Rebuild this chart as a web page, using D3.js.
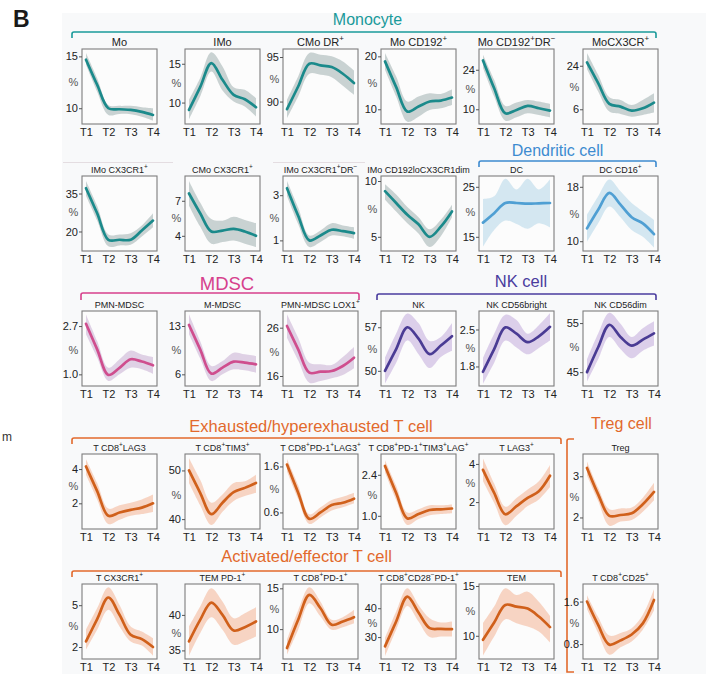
<!DOCTYPE html>
<html>
<head>
<meta charset="utf-8">
<script src="https://cdn.jsdelivr.net/npm/d3@7"></script>
<style>
  body { margin: 0; background: #fff; }
  svg { display: block; font-family: "Liberation Sans", Arial, Helvetica, sans-serif; }
</style>
</head>
<body>
<svg id="chart" width="706" height="674"></svg>
<script>
// ---- data ---------------------------------------------------------------
const timepoints = ["T1", "T2", "T3", "T4"];
// time positions at which the smoothed mean and confidence band are sampled
const samplePos = [1, 1.5, 2, 2.5, 3, 3.5, 4];

const panelTitles = [
  "Mo", "IMo", "CMo DR^+", "Mo CD192^+", "Mo CD192^+DR^\u2212", "MoCX3CR^+",
  "IMo CX3CR1^+", "CMo CX3CR1^+", "IMo CX3CR1^+DR^\u2212", "IMo CD192loCX3CR1dim", "DC", "DC CD16^+",
  "PMN-MDSC", "M-MDSC", "PMN-MDSC LOX1^+", "NK", "NK CD56bright", "NK CD56dim",
  "T CD8^+LAG3", "T CD8^+TIM3^+", "T CD8^+PD-1^+LAG3^+", "T CD8^+PD-1^+TIM3^+LAG^+", "T LAG3^+", "Treg",
  "T CX3CR1^+", "TEM PD-1^+", "T CD8^+PD-1^+", "T CD8^+CD28^\u2212PD-1^+", "TEM", "T CD8^+CD25^+"
];

const panelGroup = [
  "mono", "mono", "mono", "mono", "mono", "mono",
  "mono", "mono", "mono", "mono", "dc", "dc",
  "mdsc", "mdsc", "mdsc", "nk", "nk", "nk",
  "t", "t", "t", "t", "t", "t",
  "t", "t", "t", "t", "t", "t"
];

const yTickLabels = [
  ["10", "15"], ["10", "15"], ["90", "95"], ["10", "20"], ["10", "24"], ["6", "24"],
  ["20", "35"], ["4", "7"], ["1", "3"], ["5", "10"], ["15", "25"], ["10", "18"],
  ["1.0", "2.7"], ["6", "13"], ["16", "26"], ["50", "57"], ["1.8", "2.5"], ["45", "55"],
  ["2", "4"], ["40", "50"], ["0.6", "1.6"], ["1.0", "2.4"], ["2", "4"], ["2", "3"],
  ["2", "5"], ["35", "40"], ["10", "15"], ["30", "40"], ["10", "15"], ["0.8", "1.6"]
];

const yDomains = [
  [8.48, 15.71], [7.24, 16.9], [87.48, 95.9], [7.22, 21.39], [4.78, 31.36], [-0.09, 30.92],
  [12.3, 41.91], [2.7, 9.12], [0.53, 3.85], [3.73, 10.45], [12.16, 27.16], [8.56, 19.59],
  [0.59, 3.23], [4.31, 15.17], [13.93, 29.45], [47.56, 59.61], [1.43, 2.85], [42.18, 57.46],
  [0.5, 4.88], [37.97, 53.38], [0.24, 1.87], [0.55, 3.11], [0.59, 4.52], [1.72, 3.54],
  [1.14, 6.52], [33.79, 44.35], [6.34, 15.53], [22.41, 48.39], [7.67, 15.2], [0.52, 1.93]
];

const meanValues = [
  [14.68, 12.26, 10.0, 9.9, 9.84, 9.65, 9.35],
  [9.05, 11.98, 15.09, 12.93, 10.99, 10.43, 9.4],
  [89.14, 91.69, 94.25, 94.06, 93.87, 93.12, 92.07],
  [19.05, 14.18, 9.56, 10.51, 11.46, 11.65, 12.22],
  [27.32, 17.47, 8.58, 9.76, 11.19, 10.36, 9.53],
  [25.38, 16.8, 8.22, 7.11, 5.45, 6.42, 8.77],
  [37.09, 27.17, 16.74, 16.74, 16.74, 20.39, 24.3],
  [7.62, 5.93, 4.37, 4.45, 4.59, 4.37, 4.0],
  [3.31, 2.09, 1.0, 1.22, 1.47, 1.41, 1.32],
  [9.09, 8.03, 6.97, 6.12, 5.0, 5.91, 7.27],
  [17.84, 19.73, 21.76, 21.76, 21.62, 21.69, 21.76],
  [11.89, 14.62, 17.1, 15.37, 13.53, 12.63, 11.04],
  [2.78, 1.88, 0.98, 1.23, 1.53, 1.45, 1.32],
  [13.15, 9.62, 6.1, 6.97, 7.83, 7.69, 7.45],
  [26.34, 21.52, 16.69, 16.9, 17.03, 18.07, 19.79],
  [50.0, 53.5, 57.0, 55.17, 52.67, 54.06, 55.56],
  [1.7, 2.13, 2.54, 2.42, 2.26, 2.37, 2.55],
  [45.0, 50.07, 54.65, 52.18, 50.42, 51.62, 52.89],
  [4.15, 2.71, 1.27, 1.46, 1.62, 1.75, 2.0],
  [50.0, 45.41, 41.01, 43.38, 45.54, 46.42, 47.43],
  [1.64, 1.03, 0.46, 0.6, 0.76, 0.81, 0.9],
  [2.7, 1.78, 0.91, 1.06, 1.2, 1.22, 1.25],
  [3.69, 2.48, 1.36, 1.79, 2.22, 2.57, 3.38],
  [3.2, 2.56, 2.04, 2.06, 2.1, 2.32, 2.62],
  [2.4, 4.0, 5.55, 4.31, 2.88, 2.57, 2.0],
  [36.26, 39.3, 41.73, 40.0, 37.8, 38.27, 39.07],
  [7.68, 11.14, 14.19, 12.56, 10.53, 10.93, 11.46],
  [26.78, 35.4, 44.02, 38.51, 33.1, 32.87, 32.76],
  [9.6, 11.33, 13.1, 12.93, 12.73, 11.93, 10.87],
  [1.6, 1.16, 0.79, 0.87, 0.98, 1.19, 1.63]
];

const lowerValues = [
  [14.19, 11.6, 9.35, 9.45, 9.42, 9.19, 8.81],
  [7.84, 10.78, 14.0, 11.55, 10.13, 9.48, 8.19],
  [88.12, 90.56, 93.12, 93.0, 92.74, 91.77, 90.75],
  [17.47, 12.41, 7.66, 8.61, 9.87, 10.19, 10.82],
  [24.59, 14.5, 5.97, 7.15, 8.58, 7.98, 7.15],
  [22.62, 13.34, 5.03, 4.06, 2.95, 3.65, 4.62],
  [34.09, 24.3, 14.13, 14.52, 14.78, 18.04, 21.7],
  [6.58, 4.79, 3.32, 3.46, 3.6, 3.32, 3.04],
  [2.97, 1.73, 0.71, 0.93, 1.22, 1.18, 1.07],
  [8.33, 7.27, 6.21, 5.3, 4.09, 5.06, 6.76],
  [12.97, 16.35, 18.24, 17.57, 16.62, 17.7, 16.89],
  [9.9, 12.63, 15.12, 13.53, 11.64, 10.65, 9.06],
  [2.41, 1.59, 0.77, 1.0, 1.23, 1.18, 1.02],
  [11.8, 8.32, 5.03, 6.0, 6.72, 6.58, 6.24],
  [23.93, 19.24, 14.62, 14.97, 15.52, 16.21, 17.59],
  [47.94, 51.28, 54.89, 52.67, 50.44, 52.22, 53.22],
  [1.47, 1.87, 2.29, 2.16, 2.03, 2.15, 2.29],
  [43.03, 47.61, 52.18, 49.72, 47.82, 49.37, 50.42],
  [3.67, 2.23, 0.79, 1.04, 1.27, 1.37, 1.5],
  [47.43, 42.84, 38.78, 41.49, 43.72, 44.73, 45.41],
  [1.49, 0.89, 0.35, 0.49, 0.64, 0.71, 0.8],
  [2.48, 1.54, 0.69, 0.89, 1.02, 1.06, 1.09],
  [3.09, 1.97, 0.79, 1.28, 1.79, 2.14, 2.79],
  [3.02, 2.4, 1.8, 1.9, 1.94, 2.14, 2.42],
  [1.81, 3.24, 4.67, 3.48, 2.4, 2.1, 1.38],
  [34.25, 37.43, 39.67, 37.9, 35.79, 36.26, 36.96],
  [6.87, 9.92, 13.17, 11.54, 9.92, 10.24, 10.73],
  [23.33, 32.53, 40.8, 35.4, 30.0, 30.23, 30.23],
  [8.0, 9.93, 11.67, 11.27, 10.93, 10.43, 9.33],
  [1.46, 1.01, 0.6, 0.74, 0.85, 1.07, 1.43]
];

const upperValues = [
  [15.32, 12.9, 10.32, 10.23, 10.23, 10.1, 10.0],
  [10.34, 13.15, 16.47, 14.66, 11.98, 11.64, 10.56],
  [90.19, 92.82, 95.45, 95.26, 95.08, 94.51, 93.5],
  [20.63, 16.2, 11.46, 12.41, 13.04, 12.91, 13.8],
  [29.34, 20.44, 11.19, 12.37, 13.32, 12.73, 11.9],
  [29.26, 20.26, 10.98, 9.88, 7.8, 9.88, 12.65],
  [39.96, 30.17, 18.83, 18.83, 19.35, 22.35, 27.17],
  [8.7, 6.86, 5.44, 5.3, 5.64, 5.36, 5.08],
  [3.63, 2.46, 1.22, 1.44, 1.76, 1.66, 1.58],
  [9.7, 8.79, 7.67, 6.76, 5.67, 6.52, 7.88],
  [22.57, 23.1, 26.62, 24.46, 26.62, 24.46, 26.49],
  [13.88, 16.61, 19.09, 17.35, 15.61, 14.37, 13.13],
  [3.11, 2.17, 1.23, 1.53, 1.84, 1.7, 1.61],
  [14.69, 10.83, 7.2, 7.93, 9.14, 8.9, 8.65],
  [28.76, 23.93, 18.76, 18.41, 18.28, 19.93, 22.0],
  [52.11, 56.0, 59.22, 57.67, 54.78, 55.44, 57.67],
  [1.96, 2.42, 2.78, 2.68, 2.42, 2.58, 2.81],
  [47.61, 52.89, 57.11, 54.86, 52.18, 53.94, 55.35],
  [4.58, 3.19, 1.69, 1.88, 2.04, 2.23, 2.52],
  [52.5, 48.11, 43.38, 45.07, 47.43, 47.77, 49.12],
  [1.76, 1.19, 0.56, 0.71, 0.87, 0.94, 1.03],
  [2.9, 2.03, 1.11, 1.22, 1.36, 1.36, 1.39],
  [4.29, 2.97, 1.76, 2.22, 2.66, 3.09, 3.95],
  [3.36, 2.72, 2.2, 2.22, 2.24, 2.48, 2.84],
  [3.24, 4.79, 6.29, 5.02, 3.48, 3.12, 2.64],
  [38.36, 41.17, 43.74, 41.87, 39.53, 40.23, 41.07],
  [8.7, 12.28, 15.12, 13.37, 11.14, 11.46, 12.36],
  [29.66, 38.85, 46.9, 41.15, 36.55, 35.06, 35.4],
  [11.27, 12.93, 14.77, 14.1, 14.43, 13.43, 12.0],
  [1.72, 1.31, 0.96, 1.01, 1.1, 1.35, 1.83]
];

const groupLabels = ["Monocyte", "Dendritic cell", "MDSC", "NK cell",
  "Exhausted/hyperexhausted T cell", "Activated/effector T cell", "Treg cell"];

// ---- styling & layout ---------------------------------------------------
const palette = {
  mono: { line: "#1b8a8b", band: "#c3cdcd", head: "#1a9a9a" },
  dc:   { line: "#4f9fd3", band: "#cfe4ef", head: "#3d8bd0" },
  mdsc: { line: "#cf4e8e", band: "#dccce2", head: "#d6408c" },
  nk:   { line: "#4a3b94", band: "#d8cae8", head: "#4a3c9e" },
  t:    { line: "#d0601b", band: "#f6cfbd", head: "#e2692c" }
};

const headerLayout = [
  { group: "mono", tx: 367.5, ty: 25,  fs: 16,   y: 32,  x1: 72,  x2: 656, drop: 6 },
  { group: "dc",   tx: 557.5, ty: 156, fs: 16,   y: 161, x1: 479, x2: 656, drop: 6 },
  { group: "mdsc", tx: 227,   ty: 290, fs: 18.5, y: 293, x1: 81,  x2: 359, drop: 7 },
  { group: "nk",   tx: 521,   ty: 287, fs: 16.5, y: 294, x1: 377, x2: 656, drop: 6 },
  { group: "t",    tx: 311,   ty: 432, fs: 16.5, y: 438, x1: 72,  x2: 561, drop: 6 },
  { group: "t",    tx: 306.5, ty: 562, fs: 16.5, y: 571, x1: 72,  x2: 561, drop: 6 },
  { group: "t",    tx: 621.5, ty: 429, fs: 16,   vertical: true, x: 567, y1: 439, y2: 672, tick: 7 }
];

const rowTops = [49, 176, 311, 454, 584];
const colLefts = [82, 185, 283, 381, 479, 583];
const boxW = 75, boxH = 75;

const svg = d3.select("#chart");

// page background and panel label
svg.append("rect").attr("width", 706).attr("height", 674).attr("fill", "#ffffff");
svg.append("rect").attr("x", 62).attr("y", 13).attr("width", 644).attr("height", 661).attr("fill", "#f8f9fa");
svg.append("text").attr("x", 13).attr("y", 27).attr("font-size", 23).attr("font-weight", "bold")
  .attr("fill", "#1a1a1a").text("B");
svg.append("text").attr("x", 2).attr("y", 441).attr("font-size", 12).attr("fill", "#333").text("m");

// faint separator lines above the second row of titles
[[63, 173], [273, 365]].forEach(([a, b]) => {
  svg.append("line").attr("x1", a).attr("x2", b).attr("y1", 162.5).attr("y2", 162.5)
    .attr("stroke", "#e4dde1").attr("stroke-width", 1);
});

// group headers with brackets
headerLayout.forEach((h, i) => {
  const col = palette[h.group].head;
  svg.append("text").attr("x", h.tx).attr("y", h.ty).attr("text-anchor", "middle")
    .attr("font-size", h.fs).attr("fill", col).text(groupLabels[i]);
  let d;
  if (h.vertical) {
    d = `M${h.x + h.tick},${h.y1} L${h.x + 2},${h.y1} Q${h.x},${h.y1} ${h.x},${h.y1 + 2} L${h.x},${h.y2} L${h.x + h.tick},${h.y2}`;
  } else {
    d = `M${h.x1},${h.y + h.drop} L${h.x1},${h.y + 2} Q${h.x1},${h.y} ${h.x1 + 2},${h.y} L${h.x2 - 2},${h.y} Q${h.x2},${h.y} ${h.x2},${h.y + 2} L${h.x2},${h.y + h.drop}`;
  }
  svg.append("path").attr("d", d).attr("fill", "none").attr("stroke", col).attr("stroke-width", 1.6);
});

// writes a title string, raising the characters that follow a caret
function richText(sel, str, size) {
  const parts = str.split(/(\^.)/).filter(p => p.length);
  let raised = false;
  parts.forEach(p => {
    if (p[0] === "^") {
      sel.append("tspan").attr("font-size", size * 0.72).attr("dy", raised ? 0 : -size * 0.38).text(p[1]);
      raised = true;
    } else {
      sel.append("tspan").attr("font-size", size).attr("dy", raised ? size * 0.38 : 0).text(p);
      raised = false;
    }
  });
}

const smooth = d3.curveCatmullRom.alpha(0.5);

panelTitles.forEach((title, i) => {
  const row = Math.floor(i / 6), colIdx = i % 6;
  const left = colLefts[colIdx], top = rowTops[row];
  const pal = palette[panelGroup[i]];
  const g = svg.append("g").attr("transform", `translate(${left},${top})`);

  const x = d3.scaleLinear().domain([1, 4]).range([4, boxW - 4]);
  const y = d3.scaleLinear().domain(yDomains[i]).range([boxH, 0]);

  g.append("rect").attr("width", boxW).attr("height", boxH).attr("fill", "#fcfcfc");

  // confidence band and smoothed mean
  const pts = samplePos.map((t, k) => ({ t, m: meanValues[i][k], lo: lowerValues[i][k], hi: upperValues[i][k] }));
  const area = d3.area().x(d => x(d.t)).y0(d => y(d.lo)).y1(d => y(d.hi)).curve(smooth);
  const line = d3.line().x(d => x(d.t)).y(d => y(d.m)).curve(smooth);
  const clipId = "clip" + i;
  g.append("clipPath").attr("id", clipId).append("rect").attr("width", boxW).attr("height", boxH);
  const plot = g.append("g").attr("clip-path", `url(#${clipId})`);
  plot.append("path").datum(pts).attr("d", area).attr("fill", pal.band).attr("fill-opacity", 0.9);
  plot.append("path").datum(pts).attr("d", line).attr("fill", "none")
    .attr("stroke", pal.line).attr("stroke-width", 2.7).attr("stroke-linecap", "round")
    .attr("stroke-linejoin", "round");

  g.append("rect").attr("width", boxW).attr("height", boxH).attr("fill", "none")
    .attr("stroke", "#7d7d7d").attr("stroke-width", 1.1);

  // axes
  const tickVals = yTickLabels[i].map(Number);
  const ya = g.append("g").call(d3.axisLeft(y).tickValues(tickVals).tickSize(3).tickPadding(1)
    .tickFormat((d, k) => yTickLabels[i][k]));
  ya.select(".domain").remove();
  ya.selectAll("text").attr("font-size", 11).attr("font-family", null).attr("fill", "#222");
  ya.selectAll("line").attr("stroke", "#555");

  const xa = g.append("g").attr("transform", `translate(0,${boxH})`)
    .call(d3.axisBottom(x).tickValues([1, 2, 3, 4]).tickSize(0).tickPadding(4)
      .tickFormat((d, k) => timepoints[k]));
  xa.select(".domain").remove();
  xa.selectAll("text").attr("font-size", 11).attr("font-family", null).attr("fill", "#222");

  // "%" unit label between the two y ticks
  const midY = (y(tickVals[0]) + y(tickVals[1])) / 2;
  g.append("text").attr("x", -8.5).attr("y", midY).attr("dy", "0.35em").attr("text-anchor", "middle")
    .attr("font-size", 11).attr("fill", "#555").text("%");

  // panel title
  const t = g.append("text").attr("x", boxW / 2).attr("y", -3.5).attr("text-anchor", "middle").attr("fill", "#222");
  richText(t, title, row === 0 ? 11 : 9);
});
</script>
</body>
</html>
